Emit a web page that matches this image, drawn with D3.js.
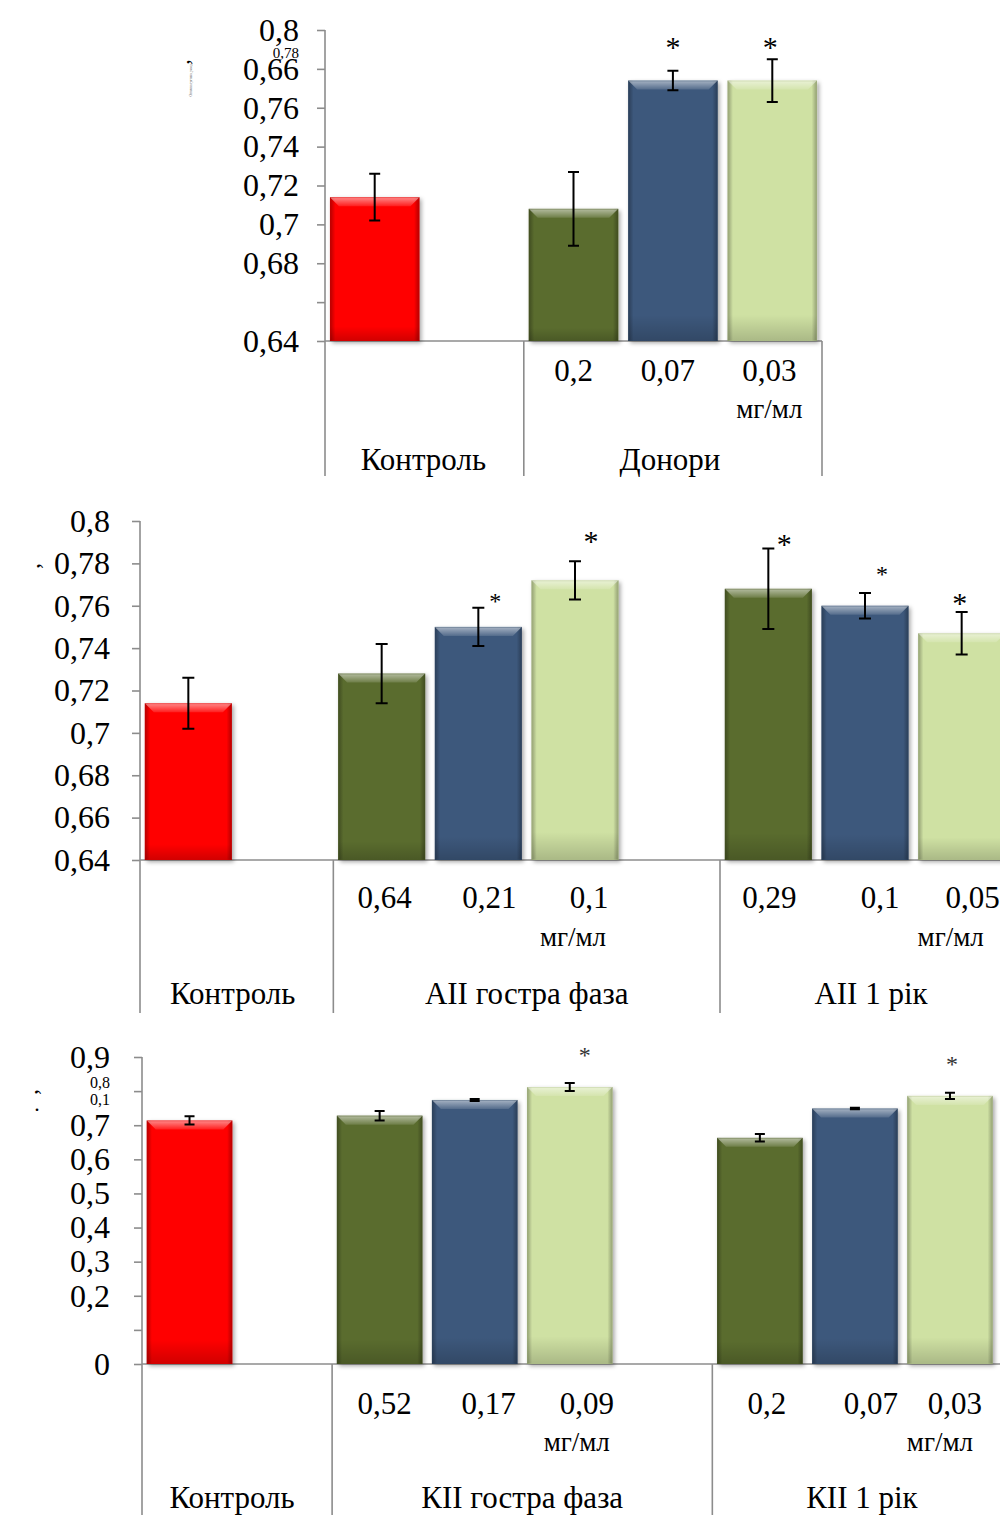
<!DOCTYPE html>
<html><head><meta charset="utf-8">
<script src="https://cdn.jsdelivr.net/npm/d3@7"></script>
<style>
body{margin:0;background:#fff;}
svg text{font-family:"Liberation Serif","Times New Roman",serif;fill:#000;}
</style></head><body>
<svg id="fig" width="1000" height="1515"></svg>
<script>
// ---------- data ----------
const controlLabel = "Контроль";
const controlValue = 0.714;
const controlError = 0.012;
const doseUnit = "мг/мл";

const donorGroup = "Донори";
const donorDoses = ["0,2", "0,07", "0,03"];
const donorValues = [0.708, 0.774, 0.774];
const donorErrors = [0.019, 0.005, 0.011];
const donorSignificant = [false, true, true];

const aiiAcuteGroup = "AII гостра фаза";
const aiiAcuteDoses = ["0,64", "0,21", "0,1"];
const aiiAcuteValues = [0.728, 0.750, 0.772];
const aiiAcuteErrors = [0.014, 0.009, 0.009];
const aiiAcuteSignificant = [false, true, true];

const aiiYearGroup = "AII 1 рік";
const aiiYearDoses = ["0,29", "0,1", "0,05"];
const aiiYearValues = [0.768, 0.760, 0.747];
const aiiYearErrors = [0.019, 0.006, 0.010];
const aiiYearSignificant = [true, true, true];

const kiiAcuteGroup = "КII гостра фаза";
const kiiAcuteDoses = ["0,52", "0,17", "0,09"];
const kiiAcuteValues = [0.728, 0.774, 0.812];
const kiiAcuteErrors = [0.014, 0.003, 0.012];
const kiiAcuteSignificant = [false, false, true];

const kiiYearGroup = "КII 1 рік";
const kiiYearDoses = ["0,2", "0,07", "0,03"];
const kiiYearValues = [0.663, 0.749, 0.786];
const kiiYearErrors = [0.011, 0.002, 0.009];
const kiiYearSignificant = [false, false, true];

// y ticks and the labels printed next to them
const odTicks = [0.64, 0.66, 0.68, 0.70, 0.72, 0.74, 0.76, 0.78, 0.80];
const topTickLabels = ["0,64", "", "0,68", "0,7", "0,72", "0,74", "0,76", "0,66", "0,8"];
const topSmallLabels = ["0,78"];
const midTickLabels = ["0,64", "0,66", "0,68", "0,7", "0,72", "0,74", "0,76", "0,78", "0,8"];
const fullTicks = [0, 0.1, 0.2, 0.3, 0.4, 0.5, 0.6, 0.7, 0.8, 0.9];
const botTickLabels = ["0", "", "0,2", "0,3", "0,4", "0,5", "0,6", "0,7", "", "0,9"];
const botSmallLabels = ["0,8", "0,1"];

// ---------- styles ----------
const doseColors = ["#5a6c2d", "#3c587c", "#cfe1a3"];
const controlColor = "#ff0000";
const axisColor = "#8c8c8c";

const svg = d3.select("#fig");
const defs = svg.append("defs");

const side = defs.append("linearGradient").attr("id", "sideShade").attr("x1", 0).attr("x2", 1).attr("y1", 0).attr("y2", 0);
[[0, 0.30], [0.06, 0.0], [0.94, 0.0], [1, 0.30]].forEach(([o, a]) =>
  side.append("stop").attr("offset", o).attr("stop-color", "#000").attr("stop-opacity", a));
const bottomShade = defs.append("linearGradient").attr("id", "bottomShade").attr("x1", 0).attr("x2", 0).attr("y1", 0).attr("y2", 1);
[[0, 0.0], [0.9, 0.0], [1, 0.18]].forEach(([o, a]) =>
  bottomShade.append("stop").attr("offset", o).attr("stop-color", "#000").attr("stop-opacity", a));
const bevel = defs.append("linearGradient").attr("id", "bevel").attr("x1", 0).attr("x2", 0).attr("y1", 0).attr("y2", 1);
[[0, 0.55], [1, 0.12]].forEach(([o, a]) =>
  bevel.append("stop").attr("offset", o).attr("stop-color", "#fff").attr("stop-opacity", a));
const shadow = defs.append("filter").attr("id", "shadow").attr("x", "-20%").attr("y", "-20%").attr("width", "140%").attr("height", "140%");
shadow.append("feDropShadow").attr("dx", 2).attr("dy", 2).attr("stdDeviation", 2.2)
  .attr("flood-color", "#000").attr("flood-opacity", 0.35);

function bevelBar(g, x, y, w, h, color) {
  const b = g.append("g");
  b.append("rect").attr("x", x).attr("y", y).attr("width", w).attr("height", h)
    .attr("fill", color).attr("filter", "url(#shadow)");
  b.append("rect").attr("x", x).attr("y", y).attr("width", w).attr("height", h).attr("fill", "url(#sideShade)");
  b.append("rect").attr("x", x).attr("y", y).attr("width", w).attr("height", h).attr("fill", "url(#bottomShade)");
  const d = Math.min(9, h / 2);
  b.append("path")
    .attr("d", `M${x},${y}L${x + w},${y}L${x + w - d},${y + d}L${x + d},${y + d}Z`)
    .attr("fill", "url(#bevel)");
  b.append("rect").attr("x", x + 0.5).attr("y", y + 0.5).attr("width", w - 1).attr("height", h - 1)
    .attr("fill", "none").attr("stroke", d3.color(color).darker(0.5)).attr("stroke-opacity", 0.35);
}

function panel(cfg) {
  const g = svg.append("g");
  const y = d3.scaleLinear().domain(cfg.domain).range(cfg.yRange);

  // slots: control, gap, dose group(s) separated by gaps
  const slots = [{ key: "control", label: controlLabel, value: controlValue, err: controlError, color: controlColor, sig: false }];
  cfg.groups.forEach((grp, gi) => {
    slots.push({ key: "gap" + gi });
    grp.doses.forEach((dose, i) => slots.push({
      key: grp.name + i, dose, value: grp.values[i], err: grp.errors[i],
      color: doseColors[i], sig: grp.sig[i], gi, i
    }));
  });
  const x = d3.scaleBand().domain(slots.map(s => s.key)).range(cfg.xRange);
  const bw = x.bandwidth();
  const barW = bw * 0.9;

  // y axis
  const axis = d3.axisLeft(y).tickValues(cfg.ticks).tickFormat((d, i) => cfg.tickLabels[i])
    .tickSize(8).tickSizeOuter(0).tickPadding(cfg.tickPad);
  const ag = g.append("g").attr("transform", `translate(${cfg.xRange[0]},0)`).call(axis);
  ag.select(".domain").remove();
  ag.selectAll(".tick line").attr("stroke", axisColor).attr("stroke-width", 1.6);
  ag.selectAll(".tick text").attr("font-size", cfg.tickFont);
  cfg.small.forEach(s => {
    g.append("text").attr("x", cfg.xRange[0] - cfg.tickPad - 8).attr("y", y(s.at) + s.dy)
      .attr("text-anchor", "end").attr("font-size", cfg.smallFont).text(s.text);
  });

  // axis lines
  const y0 = y(cfg.domain[0]);
  g.append("line").attr("x1", cfg.xRange[0]).attr("x2", cfg.xRange[0])
    .attr("y1", y(cfg.domain[1])).attr("y2", cfg.bottom).attr("stroke", axisColor).attr("stroke-width", 1.6);
  g.append("line").attr("x1", cfg.xRange[0]).attr("x2", cfg.xEnd)
    .attr("y1", y0).attr("y2", y0).attr("stroke", axisColor).attr("stroke-width", 1.6);
  cfg.groups.forEach((grp, gi) => {
    const sx = x("gap" + gi) + bw;
    g.append("line").attr("x1", sx).attr("x2", sx).attr("y1", y0).attr("y2", cfg.bottom)
      .attr("stroke", axisColor).attr("stroke-width", 1.6);
  });
  if (cfg.closeRight) {
    g.append("line").attr("x1", cfg.xRange[1]).attr("x2", cfg.xRange[1]).attr("y1", y0).attr("y2", cfg.bottom)
      .attr("stroke", axisColor).attr("stroke-width", 1.6);
  }

  // bars with error bars
  const bars = slots.filter(s => s.value !== undefined);
  bars.forEach(s => {
    const bx = x(s.key) + (bw - barW) / 2;
    bevelBar(g, bx, y(s.value), barW, y0 - y(s.value), s.color);
  });
  bars.forEach(s => {
    const cx = x(s.key) + bw / 2;
    const t = y(s.value + s.err), b = y(s.value - s.err);
    const cap = cfg.cap / 2;
    g.append("path").attr("d", `M${cx},${t}V${b}M${cx - cap},${t}H${cx + cap}M${cx - cap},${b}H${cx + cap}`)
      .attr("stroke", "#000").attr("stroke-width", 2).attr("fill", "none");
  });

  // significance marks
  bars.filter(s => s.sig).forEach(s => {
    const st = cfg.stars[s.gi][s.i];
    const cx = x(s.key) + bw / 2 + st[0];
    const cy = y(s.value + s.err) + st[1];
    g.append("text").attr("x", cx).attr("y", cy + 0.47 * st[2]).attr("text-anchor", "middle")
      .attr("font-size", st[2]).style("fill", cfg.starColor).text("*");
  });

  // category labels
  const grpBounds = [cfg.xRange[0]];
  cfg.groups.forEach((grp, gi) => grpBounds.push(x("gap" + gi) + bw));
  grpBounds.push(cfg.groupEnd);
  const groupNames = [controlLabel].concat(cfg.groups.map(gp => gp.name));
  groupNames.forEach((name, k) => {
    g.append("text").attr("x", (grpBounds[k] + grpBounds[k + 1]) / 2 + cfg.groupDx[k]).attr("y", cfg.groupY)
      .attr("text-anchor", "middle").attr("font-size", cfg.labelFont).text(name);
  });
  bars.filter(s => s.dose).forEach(s => {
    g.append("text").attr("x", x(s.key) + bw / 2 + cfg.doseDx[s.gi][s.i]).attr("y", cfg.doseY)
      .attr("text-anchor", "middle").attr("font-size", cfg.labelFont).text(s.dose);
    if (s.i === 2) {
      g.append("text").attr("x", x(s.key) + bw / 2 + cfg.unitDx[s.gi]).attr("y", cfg.unitY)
        .attr("text-anchor", "middle").attr("font-size", cfg.unitFont).text(doseUnit);
    }
  });

  // compressed y-axis caption
  cfg.caption(g);
}

// Panel 1: donors
panel({
  domain: [0.64, 0.80], yRange: [341, 30], ticks: odTicks, tickLabels: topTickLabels,
  small: [{ at: 0.78, text: topSmallLabels[0], dy: -11 }],
  tickPad: 18, tickFont: 32, smallFont: 15,
  xRange: [325, 822], xEnd: 822, groupEnd: 822, closeRight: true, bottom: 476,
  groups: [{ name: donorGroup, doses: donorDoses, values: donorValues, errors: donorErrors, sig: donorSignificant }],
  cap: 11, starColor: "#000",
  stars: [[[0, 0, 30], [0, -28, 30], [-2, -16, 30]]],
  labelFont: 31, unitFont: 27, doseY: 381, unitY: 418, groupY: 470,
  groupDx: [-1, -3], doseDx: [[0, -5, -3]], unitDx: [-3],
  caption: g => {
    g.append("text").attr("transform", "translate(189,62) rotate(-90)").attr("font-size", 22)
      .attr("text-anchor", "middle").text(",");
    g.append("text").attr("transform", "translate(192,80) rotate(-90)").attr("font-size", 3.2)
      .attr("text-anchor", "middle").style("fill", "#555").text("Оптична густина, ум.од.");
  }
});

// Panel 2: AII patients
panel({
  domain: [0.64, 0.80], yRange: [860, 521], ticks: odTicks, tickLabels: midTickLabels,
  small: [], tickPad: 22, tickFont: 32, smallFont: 16,
  xRange: [140, 1010], xEnd: 1000, groupEnd: 1010, closeRight: false, bottom: 1013,
  groups: [
    { name: aiiAcuteGroup, doses: aiiAcuteDoses, values: aiiAcuteValues, errors: aiiAcuteErrors, sig: aiiAcuteSignificant },
    { name: aiiYearGroup, doses: aiiYearDoses, values: aiiYearValues, errors: aiiYearErrors, sig: aiiYearSignificant }
  ],
  cap: 12, starColor: "#000",
  stars: [[[0, 0, 30], [17, -10, 24], [16, -24, 30]], [[16, -9, 30], [17, -22, 24], [-2, -13, 30]]],
  labelFont: 31, unitFont: 27, doseY: 908, unitY: 946, groupY: 1004,
  groupDx: [-4, 0, 6], doseDx: [[3, 11, 14], [1, 15, 11]], unitDx: [-2, -11],
  caption: g => {
    g.append("text").attr("transform", "translate(39,566) rotate(-90)").attr("font-size", 24)
      .attr("text-anchor", "middle").text(",");
  }
});

// Panel 3: KII patients
panel({
  domain: [0, 0.9], yRange: [1364, 1057], ticks: fullTicks, tickLabels: botTickLabels,
  small: [{ at: 0.8, text: botSmallLabels[0], dy: -3 }, { at: 0.8, text: botSmallLabels[1], dy: 14 }],
  tickPad: 24, tickFont: 32, smallFont: 16,
  xRange: [142, 997.5], xEnd: 1000, groupEnd: 997.5, closeRight: false, bottom: 1515,
  groups: [
    { name: kiiAcuteGroup, doses: kiiAcuteDoses, values: kiiAcuteValues, errors: kiiAcuteErrors, sig: kiiAcuteSignificant },
    { name: kiiYearGroup, doses: kiiYearDoses, values: kiiYearValues, errors: kiiYearErrors, sig: kiiYearSignificant }
  ],
  cap: 10, starColor: "#333",
  stars: [[[0, 0, 24], [0, 0, 24], [15, -31, 24]], [[0, 0, 24], [0, 0, 24], [2, -32, 24]]],
  labelFont: 31, unitFont: 27, doseY: 1414, unitY: 1451, groupY: 1508,
  groupDx: [-5, 0, 7], doseDx: [[5, 14, 17], [7, 16, 5]], unitDx: [7, -10],
  caption: g => {
    g.append("text").attr("transform", "translate(37,1092) rotate(-90)").attr("font-size", 24)
      .attr("text-anchor", "middle").text(",");
    g.append("text").attr("x", 37).attr("y", 1111).attr("font-size", 22)
      .attr("text-anchor", "middle").text(".");
  }
});
</script>
</body></html>
